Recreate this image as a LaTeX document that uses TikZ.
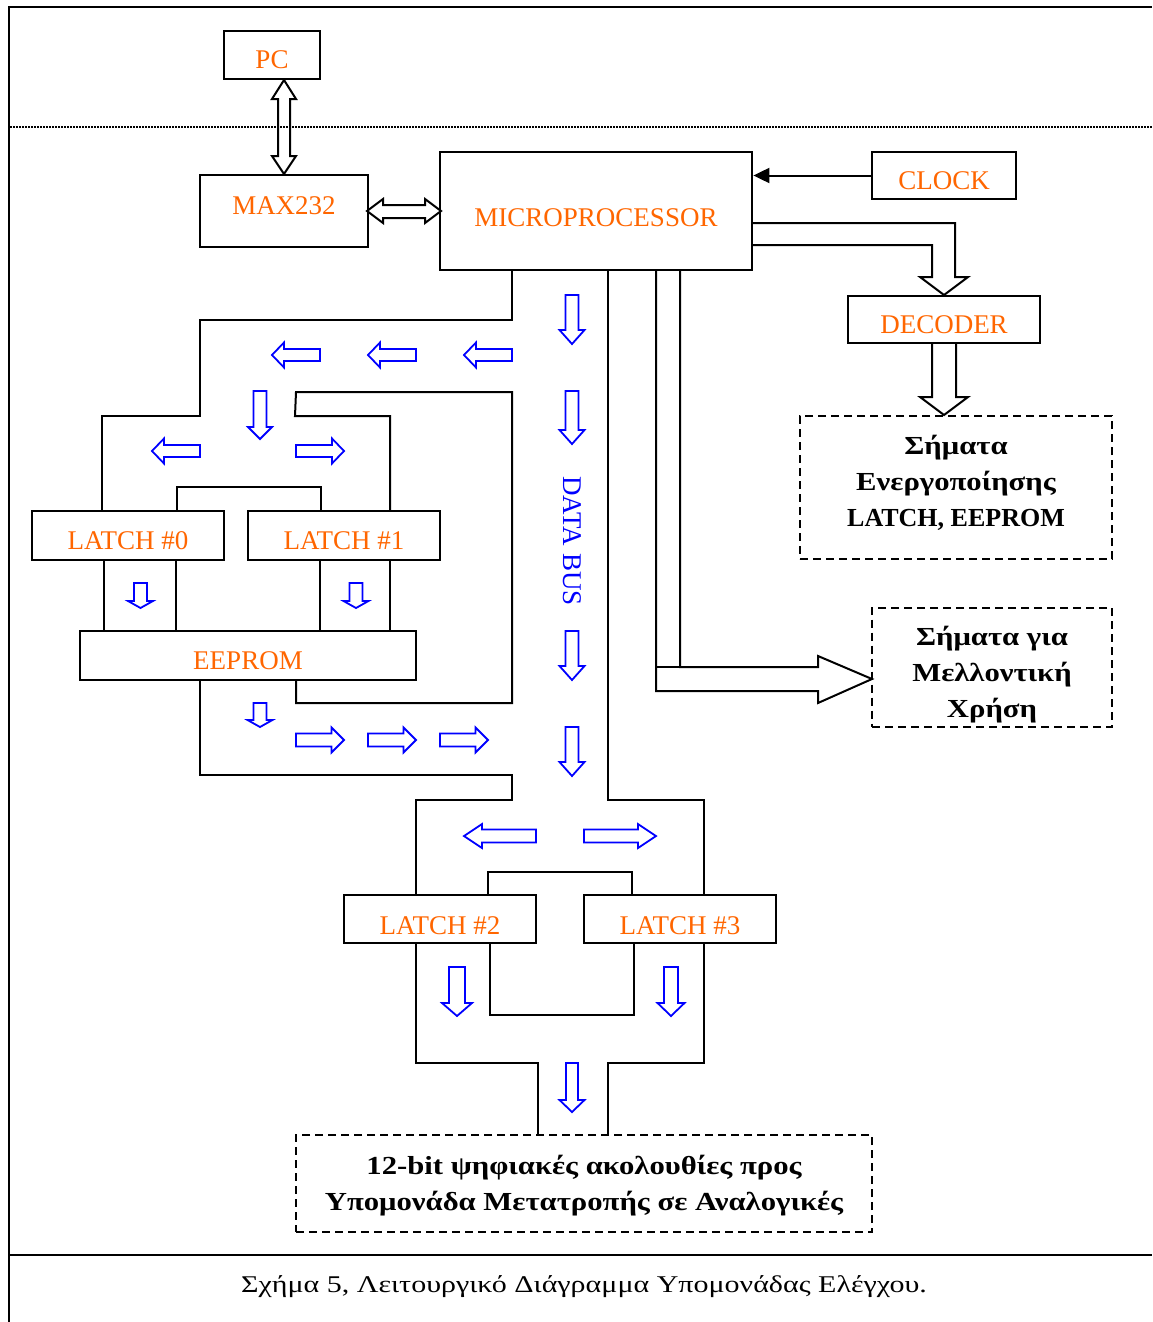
\documentclass[tikz,border=0pt]{standalone}
\usepackage{fontspec}
\setmainfont{Liberation Serif}
\newfontfamily\greekwide[FakeStretch=1.18]{Liberation Serif}
\newfontfamily\capwide[FakeStretch=1.25]{Liberation Serif}
\usetikzlibrary{arrows.meta,calc}
\definecolor{lblorange}{RGB}{255,102,0}
\definecolor{busblue}{RGB}{0,0,255}

% block arrows: style, tail, tip, centre line, shaft half width, head half width, head length
\newcommand{\arrR}[7]{\draw[#1] (#2,{#4-#5}) -- ({#3-#7},{#4-#5}) -- ({#3-#7},{#4-#6}) -- (#3,#4) -- ({#3-#7},{#4+#6}) -- ({#3-#7},{#4+#5}) -- (#2,{#4+#5}) -- cycle;}
\newcommand{\arrL}[7]{\draw[#1] (#2,{#4-#5}) -- ({#3+#7},{#4-#5}) -- ({#3+#7},{#4-#6}) -- (#3,#4) -- ({#3+#7},{#4+#6}) -- ({#3+#7},{#4+#5}) -- (#2,{#4+#5}) -- cycle;}
\newcommand{\arrD}[7]{\draw[#1] ({#4-#5},#2) -- ({#4-#5},{#3-#7}) -- ({#4-#6},{#3-#7}) -- (#4,#3) -- ({#4+#6},{#3-#7}) -- ({#4+#5},{#3-#7}) -- ({#4+#5},#2) -- cycle;}

\begin{document}
\begin{tikzpicture}[x=1pt,y=-1pt,
  box/.style={draw=black, line width=2.8pt, inner sep=0pt},
  dbox/.style={draw=black, line width=2pt, dash pattern=on 8pt off 5pt, inner sep=0pt},
  olabel/.style={text=lblorange, font=\fontsize{27}{32}\selectfont, anchor=base, inner sep=0pt},
  btext/.style={font=\fontsize{26}{36}\selectfont\greekwide\bfseries, align=center, inner sep=0pt},
  wall/.style={draw=black, line width=2pt},
  hollow/.style={draw=black, line width=2pt, line join=miter},
  blu/.style={draw=busblue, line width=1.8pt, line join=miter}]

\useasboundingbox (0,0) rectangle (1152,1322);
\fill[white] (0,0) rectangle (1152,1322);

% outer frame, caption separator and dotted split line
\draw[line width=2.2pt] (9,1322) -- (9,7) -- (1152,7);
\draw[line width=2.5pt] (9,1255) -- (1152,1255);
\draw[line width=2pt, dash pattern=on 1.5pt off 1.5pt] (10,127) -- (1152,127);

% blocks
\node[box, minimum width=96pt,  minimum height=48pt]  (pc)  at (272,55)    {};
\node[box, minimum width=168pt, minimum height=72pt]  (max) at (284,211)   {};
\node[box, minimum width=312pt, minimum height=118pt] (mcu) at (596,211)   {};
\node[box, minimum width=144pt, minimum height=47pt]  (clk) at (944,175.5) {};
\node[box, minimum width=192pt, minimum height=47pt]  (dec) at (944,319.5) {};
\node[box, minimum width=192pt, minimum height=49pt]  (lt0) at (128,535.5) {};
\node[box, minimum width=192pt, minimum height=49pt]  (lt1) at (344,535.5) {};
\node[box, minimum width=336pt, minimum height=49pt]  (eep) at (248,655.5) {};
\node[box, minimum width=192pt, minimum height=48pt]  (lt2) at (440,919)   {};
\node[box, minimum width=192pt, minimum height=48pt]  (lt3) at (680,919)   {};
\node[dbox, minimum width=312pt, minimum height=143pt] (sig) at (956,487.5) {};
\node[dbox, minimum width=240pt, minimum height=119pt] (fut) at (992,667)   {};
\node[dbox, minimum width=576pt, minimum height=97pt]  (dac) at (584,1183.5) {};

% block labels
\node[olabel] (pcl)  at ([yshift=-14pt]pc.center)    {PC};
\node[olabel] (maxl) at ([yshift=-3pt]max.center)    {MAX232};
\node[olabel] (mcul) at ([yshift=-15pt]mcu.center)   {MICROPROCESSOR};
\node[olabel] (clkl) at ([yshift=-13.5pt]clk.center) {CLOCK};
\node[olabel] (decl) at ([yshift=-13.5pt]dec.center) {DECODER};
\node[olabel] (lt0l) at ([yshift=-13.5pt]lt0.center) {LATCH \#0};
\node[olabel] (lt1l) at ([yshift=-13.5pt]lt1.center) {LATCH \#1};
\node[olabel] (eepl) at ([yshift=-13.5pt]eep.center) {EEPROM};
\node[olabel] (lt2l) at ([yshift=-15pt]lt2.center)   {LATCH \#2};
\node[olabel] (lt3l) at ([yshift=-15pt]lt3.center)   {LATCH \#3};

\node[btext] (sigl) at (956,483)  {Σήματα\\Ενεργοποίησης\\{\rmfamily\bfseries LATCH, EEPROM}};
\node[btext] (futl) at (992,675)  {Σήματα για\\Μελλοντική\\Χρήση};
\node[btext] (dacl) at (584,1186) {12-bit ψηφιακές ακολουθίες προς\\Υπομονάδα Μετατροπής σε Αναλογικές};

\node[font=\fontsize{24}{30}\selectfont\capwide, inner sep=0pt] (cap) at (584,1287)
  {Σχήμα 5, Λειτουργικό Διάγραμμα Υπομονάδας Ελέγχου.};

% PC <-> MAX232 and MAX232 <-> microprocessor
\draw[hollow] (284,80) -- (296,99) -- (290,99) -- (290,156) -- (296,156) -- (284,174)
  -- (272,156) -- (278,156) -- (278,99) -- (272,99) -- cycle;
\draw[hollow] (367,211) -- (383,199) -- (383,205) -- (425,205) -- (425,199) -- (441,211)
  -- (425,223) -- (425,218) -- (383,218) -- (383,223) -- cycle;

% clock input
\draw[line width=2pt, -{Triangle[length=16pt,width=15pt]}] (clk.west) -- (clk.west -| mcu.east);

% microprocessor -> decoder -> enable signals
\draw[hollow] (752,223) -- (955,223) -- (955,277) -- (968,277) -- (944,295) -- (920,277)
  -- (932,277) -- (932,245) -- (752,245);
\draw[hollow] (932,343) -- (932,397) -- (920,397) -- (944,415) -- (968,397) -- (956,397) -- (956,343);

% microprocessor -> future use signals
\draw[hollow] (656,270) -- (656,691) -- (818,691) -- (818,703) -- (872,679) -- (818,656)
  -- (818,667) -- (680,667) -- (680,270);
\draw[hollow] (656,667) -- (680,667);

% data bus walls
\draw[wall] (512,270) -- (512,320) -- (200,320) -- (200,416) -- (102,416) -- (102,511);
\draw[wall] (390,511) -- (390,416) -- (295,416) -- (296,392) -- (512,392) -- (512,703)
  -- (296,703) -- (296,680);
\draw[wall] (177,511) -- (177,487) -- (321,487) -- (321,511);
\draw[wall] (104,560) -- (104,631);
\draw[wall] (176,560) -- (176,631);
\draw[wall] (320,560) -- (320,631);
\draw[wall] (390,560) -- (390,631);
\draw[wall] (200,680) -- (200,775) -- (512,775) -- (512,800) -- (416,800) -- (416,895);
\draw[wall] (608,270) -- (608,800) -- (704,800) -- (704,895);
\draw[wall] (488,895) -- (488,872) -- (632,872) -- (632,895);
\draw[wall] (416,943) -- (416,1063) -- (538,1063) -- (538,1135);
\draw[wall] (490,943) -- (490,1015) -- (634,1015) -- (634,943);
\draw[wall] (704,943) -- (704,1063) -- (608,1063) -- (608,1135);

% data flow arrows
\arrD{blu}{295}{344}{572}{6.5}{12.5}{14}
\arrD{blu}{391}{444}{572}{6.5}{12.5}{14}
\arrD{blu}{631}{680}{572}{6.5}{12.5}{14}
\arrD{blu}{727}{776}{572}{6.5}{12.5}{14}
\arrD{blu}{1063}{1112}{572}{6}{12.5}{12}
\node[text=busblue, font=\fontsize{27}{32}\selectfont, rotate=-90, inner sep=0pt] (busl) at (572,541) {DATA BUS};

\arrL{blu}{320}{272}{355}{6}{12.5}{12}
\arrL{blu}{416}{368}{355}{6}{12.5}{12}
\arrL{blu}{512}{464}{355}{6}{12.5}{12}
\arrD{blu}{391}{439}{260}{6.5}{12}{12}
\arrL{blu}{200}{152}{451}{6}{12.5}{12}
\arrR{blu}{296}{344}{451}{6}{12.5}{12}
\arrD{blu}{583}{608}{140.5}{6.5}{12.5}{7}
\arrD{blu}{583}{608}{356}{6.5}{12.5}{7}
\arrD{blu}{703}{727}{260}{6.5}{12.5}{7}
\arrR{blu}{296}{344}{740}{6.5}{12.5}{12.5}
\arrR{blu}{368}{416}{740}{6.5}{12.5}{12.5}
\arrR{blu}{440}{488}{740}{6.5}{12.5}{12.5}
\arrL{blu}{536}{464}{836}{6.5}{12}{18}
\arrR{blu}{584}{656}{836}{6.5}{12}{18}
\arrD{blu}{967}{1016}{457}{8}{15}{13}
\arrD{blu}{967}{1016}{671}{7}{13.5}{13}

\end{tikzpicture}
\end{document}
